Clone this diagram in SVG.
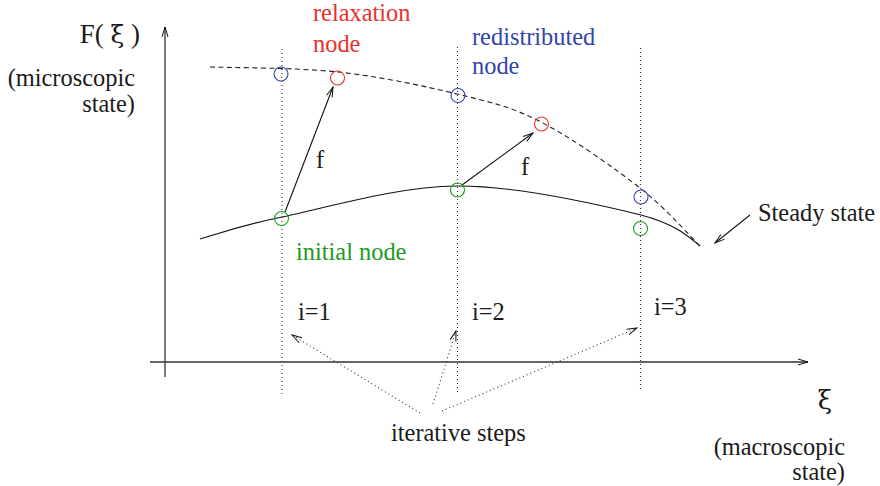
<svg xmlns="http://www.w3.org/2000/svg" width="880" height="486" viewBox="0 0 880 486">
<defs>
<style>
text{font-family:"Liberation Serif","Times New Roman",serif;font-size:24.4px;fill:#1a1a1a}
.greek{font-family:"DejaVu Serif","Liberation Serif",serif}
.red{fill:#e8322c}
.blue{fill:#3344aa}
.green{fill:#1e9a1e}
.axis{stroke:#333;stroke-width:1.3;fill:none}
.vdot{stroke:#333;stroke-width:1.1;stroke-dasharray:1 3;fill:none}
.cr{fill:none;stroke:#e8322c;stroke-width:1.1}
.cb{fill:none;stroke:#3344aa;stroke-width:1.1}
.cg{fill:none;stroke:#1e9a1e;stroke-width:1.1}
.arr{stroke:#111;stroke-width:1.1;fill:none;marker-end:url(#head)}
.darr{stroke:#333;stroke-width:1.1;stroke-dasharray:1 3;fill:none;marker-end:url(#head)}
</style>
<marker id="head" viewBox="0 0 12 8" refX="11" refY="4" markerWidth="12" markerHeight="8" markerUnits="userSpaceOnUse" orient="auto">
<path d="M1,1 L11,4 L1,7" fill="none" stroke="#111" stroke-width="1"/>
</marker>
</defs>

<g id="axes">
<line class="axis" x1="165" y1="377" x2="165" y2="27" marker-end="url(#head)"/>
<line class="axis" x1="150" y1="362" x2="808" y2="362" marker-end="url(#head)"/>
</g>

<g id="iterations">
<line class="vdot" x1="282" y1="49" x2="282" y2="395"/>
<line class="vdot" x1="457.5" y1="47" x2="457.5" y2="392"/>
<line class="vdot" x1="640.5" y1="48" x2="640.5" y2="391"/>
</g>

<g id="curves">
<path id="relaxed-curve" d="M210,67 C231.3,67.8 296.8,67.5 338,72 C379.2,76.5 423.2,85.7 457,94 C490.8,102.3 510.5,106.3 541,122 C571.5,137.7 613.5,167.3 640,188 C666.5,208.7 690,236.3 700,246" fill="none" stroke="#222" stroke-width="1.1" stroke-dasharray="5 3.5"/>
<path id="initial-curve" d="M200,239 C213.7,235.3 239.2,225.8 282,217 C324.8,208.2 397.2,186.3 457,186 C516.8,185.7 600.5,205 641,215 C675,224 688,236 700,246" fill="none" stroke="#111" stroke-width="1.2"/>
</g>

<g id="connectors">
<line class="arr" x1="285" y1="212" x2="333" y2="87"/>
<line class="arr" x1="462" y1="185" x2="533" y2="133"/>
<line class="arr" x1="750" y1="215" x2="715" y2="243"/>
<line class="darr" x1="420" y1="413" x2="292" y2="335"/>
<line class="darr" x1="433" y1="404" x2="456" y2="331"/>
<line class="darr" x1="442" y1="411" x2="637" y2="328"/>
</g>

<g id="node-blue-1"><circle class="cb" cx="281" cy="74" r="7"/></g>
<g id="node-red-1"><circle class="cr" cx="337.5" cy="78" r="7"/></g>
<g id="node-blue-2"><circle class="cb" cx="458" cy="95.5" r="7"/></g>
<g id="node-red-2"><circle class="cr" cx="541.5" cy="124" r="7"/></g>
<g id="node-blue-3"><circle class="cb" cx="641" cy="197" r="7"/></g>
<g id="node-green-1"><circle class="cg" cx="281.5" cy="218.5" r="7"/></g>
<g id="node-green-2"><circle class="cg" cx="457.5" cy="190" r="7"/></g>
<g id="node-green-3"><circle class="cg" cx="640.5" cy="228.5" r="7"/></g>

<g id="labels">
<text x="140" y="43" text-anchor="end" style="font-size:27px">F( <tspan class="greek" style="font-size:25px">ξ</tspan> )</text>
<text x="135" y="86" text-anchor="end">(microscopic</text>
<text x="135" y="112" text-anchor="end">state)</text>
<text class="red" x="313" y="21">relaxation</text>
<text class="red" x="313" y="52">node</text>
<text class="blue" x="472" y="45">redistributed</text>
<text class="blue" x="472" y="74">node</text>
<text x="316" y="168">f</text>
<text x="521" y="175">f</text>
<text class="green" x="296" y="260">initial node</text>
<text x="758" y="221">Steady state</text>
<text x="298" y="320">i=1</text>
<text x="472" y="320">i=2</text>
<text x="654" y="315">i=3</text>
<text x="391" y="441">iterative steps</text>
<text class="greek" x="825" y="409" text-anchor="middle" style="font-size:26px">ξ</text>
<text x="845" y="455" text-anchor="end">(macroscopic</text>
<text x="845" y="480" text-anchor="end">state)</text>
</g>
</svg>
